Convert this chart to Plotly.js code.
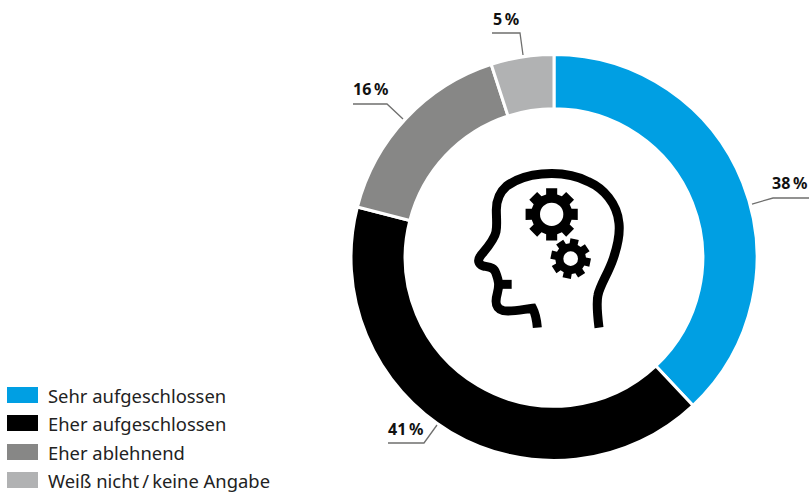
<!DOCTYPE html>
<html><head><meta charset="utf-8">
<script src="https://cdn.plot.ly/plotly-3.0.1.min.js"></script>
<style>html,body{margin:0;padding:0;background:#fff}</style></head>
<body><div id="chart" style="width:809px;height:494px"></div>
<script>
const categories = ["Sehr aufgeschlossen", "Eher aufgeschlossen", "Eher ablehnend", "Weiß nicht\u2009/\u2009keine Angabe"];
const values = [38, 41, 16, 5];
const colors = ["#009fe3", "#000000", "#878786", "#b1b2b3"];

const W = 809, H = 494;
const FONT = "'Noto Sans', 'Open Sans', sans-serif";
const px = x => (x / W).toFixed(5);
const py = y => (1 - y / H).toFixed(5);

// label anchors (left x, middle y) and leader polylines, in pixels
const labelPos = [[771, 183], [387, 429], [352, 89], [492, 19]];
const leaders = [
  [[752, 204], [773, 198], [809, 198]],
  [[388, 443], [424, 443], [437, 425]],
  [[353, 104], [387, 104], [403, 119]],
  [[492, 33], [520, 33], [523, 55]]
];
const legendRows = [395, 423, 452, 480];

const shapes = [], annotations = [];
const poly = pts => pts.map((p, i) => (i ? "L" : "M") + px(p[0]) + " " + py(p[1])).join(" ");

leaders.forEach(l => shapes.push({type: "path", xref: "paper", yref: "paper", path: poly(l),
  line: {color: "#6f6f6e", width: 1.3}, fillcolor: "rgba(0,0,0,0)"}));

values.forEach((v, i) => annotations.push({xref: "paper", yref: "paper", x: labelPos[i][0] / W, y: 1 - labelPos[i][1] / H,
  xanchor: "left", yanchor: "middle", showarrow: false, text: "<b>" + v + "\u2009%</b>",
  font: {family: FONT, size: 16, color: "#111"}, borderpad: 0}));

categories.forEach((c, i) => {
  const y = legendRows[i];
  shapes.push({type: "rect", xref: "paper", yref: "paper", x0: 7 / W, x1: 38 / W, y0: 1 - (y + 8) / H, y1: 1 - (y - 8) / H,
    fillcolor: colors[i], line: {width: 0}});
  annotations.push({xref: "paper", yref: "paper", x: 47 / W, y: 1 - y / H, xanchor: "left", yanchor: "middle",
    showarrow: false, text: c, font: {family: FONT, size: 18.4, color: "#222"}, borderpad: 0});
});

// icon, drawn in a 3x sketch space anchored at (460,160)
const ix = v => px(460 + v / 3), iy = v => py(160 + v / 3);
function curve(s) {
  return s.replace(/(-?[\d.]+)[ ,]+(-?[\d.]+)/g, (m, a, b) => ix(+a) + " " + iy(+b));
}
const head = "M417 503 C413 470 408 430 414 405 C420 375 445 340 460 295 C472 260 480 220 477 190 C472 130 430 85 385 65 C340 42 290 38 245 42 C200 46 165 60 140 78 C118 97 109 120 109 150 C109 175 112 195 108 215 C104 238 80 265 62 287 C52 300 54 312 70 318 C90 322 102 322 108 340 C114 358 120 370 112 400 C105 425 105 445 130 452 C155 456 190 448 218 445 C226 460 230 480 232 503";
const lip = "M118 373 L155 373";
[head, lip].forEach(p => shapes.push({type: "path", xref: "paper", yref: "paper", path: curve(p),
  line: {color: "#000", width: 9}, fillcolor: "rgba(0,0,0,0)"}));

function gear(cx, cy, rOuter, rBody, rHole, rot) {
  const pts = [], n = 8, tw = 0.21, bw = 0.27;
  for (let k = 0; k < n; k++) {
    const a = rot + k * 2 * Math.PI / n;
    [[rBody, -bw], [rOuter, -tw], [rOuter, tw], [rBody, bw]].forEach(q =>
      pts.push([q[0] * Math.sin(a + q[1]) + cx, -q[0] * Math.cos(a + q[1]) + cy]));
  }
  shapes.push({type: "path", xref: "paper", yref: "paper",
    path: pts.map((p, i) => (i ? "L" : "M") + ix(p[0]) + " " + iy(p[1])).join(" ") + " Z",
    fillcolor: "#000", line: {width: 0}});
  shapes.push({type: "circle", xref: "paper", yref: "paper",
    x0: ix(cx - rHole), x1: ix(cx + rHole), y0: iy(cy + rHole), y1: iy(cy - rHole),
    fillcolor: "#fff", line: {width: 0}});
}
gear(275, 163, 80, 62, 35, 0);
gear(332, 296, 61, 46, 22, 0.2);

Plotly.newPlot("chart", [{
  type: "pie", labels: categories, values: values, sort: false, direction: "clockwise", rotation: 0,
  hole: 0.733, textinfo: "none", hoverinfo: "label+percent",
  marker: {colors: colors, line: {color: "#fff", width: 3}},
  domain: {x: [351 / W, 757 / W], y: [1 - 460.5 / H, 1 - 54.5 / H]}
}], {
  width: W, height: H, margin: {l: 0, r: 0, t: 0, b: 0}, showlegend: false,
  paper_bgcolor: "#fff", font: {family: FONT}, shapes: shapes, annotations: annotations
}, {displayModeBar: false, staticPlot: true});
</script></body></html>
